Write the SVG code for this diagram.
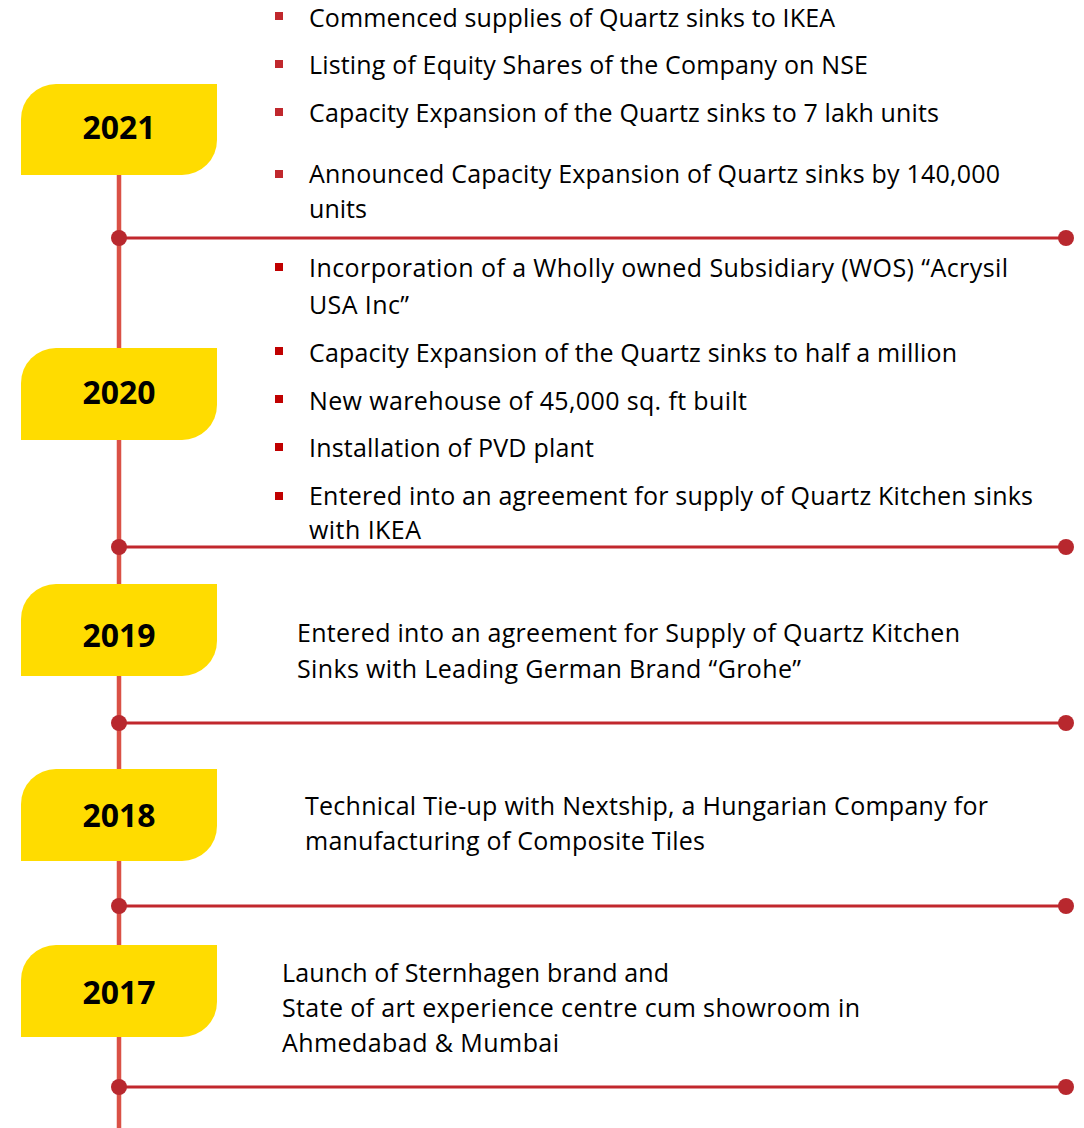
<svg xmlns="http://www.w3.org/2000/svg" width="1084" height="1128" viewBox="0 0 1084 1128">
<style>
.box{fill:#FFDC00}
.yr{font-family:"Open Sans","Liberation Sans",sans-serif;font-weight:700;font-size:32px;fill:#000;text-anchor:middle}
.t{font-family:"Open Sans","Liberation Sans",sans-serif;font-size:25px;fill:#000}
.b1{fill:#C0282D}
.b2{fill:#C00000}
.vline{stroke:#DA5146;stroke-width:4.5;fill:none}
.hline{stroke:#C1272D;stroke-width:3;fill:none}
.dot{fill:#B8282E}
</style>
<rect width="1084" height="1128" fill="#fff"/>
<g id="connectors">
<line class="vline" x1="119" y1="120" x2="119" y2="1128"/>
<g id="sep-2021"><line class="hline" x1="119" y1="238" x2="1066" y2="238"/><circle class="dot" cx="119" cy="238" r="8"/><circle class="dot" cx="1066" cy="238" r="8"/></g>
<g id="sep-2020"><line class="hline" x1="119" y1="547" x2="1066" y2="547"/><circle class="dot" cx="119" cy="547" r="8"/><circle class="dot" cx="1066" cy="547" r="8"/></g>
<g id="sep-2019"><line class="hline" x1="119" y1="723" x2="1066" y2="723"/><circle class="dot" cx="119" cy="723" r="8"/><circle class="dot" cx="1066" cy="723" r="8"/></g>
<g id="sep-2018"><line class="hline" x1="119" y1="906" x2="1066" y2="906"/><circle class="dot" cx="119" cy="906" r="8"/><circle class="dot" cx="1066" cy="906" r="8"/></g>
<g id="sep-2017"><line class="hline" x1="119" y1="1087" x2="1066" y2="1087"/><circle class="dot" cx="119" cy="1087" r="8"/><circle class="dot" cx="1066" cy="1087" r="8"/></g>
</g>
<g id="year-2021">
<path class="box" d="M56,84 H217 V140 A35,35 0 0 1 182,175 H21 V119 A35,35 0 0 1 56,84 Z"/>
<text class="yr" x="119" y="139" textLength="73" lengthAdjust="spacingAndGlyphs">2021</text>
</g>
<g id="events-2021">
<rect class="b1" x="275" y="12" width="8" height="8"/>
<text class="t" x="309" y="27" textLength="526" lengthAdjust="spacing">Commenced supplies of Quartz sinks to IKEA</text>
<rect class="b1" x="275" y="60" width="8" height="8"/>
<text class="t" x="309" y="74" textLength="559" lengthAdjust="spacing">Listing of Equity Shares of the Company on NSE</text>
<rect class="b1" x="275" y="108" width="8" height="8"/>
<text class="t" x="309" y="122" textLength="630" lengthAdjust="spacing">Capacity Expansion of the Quartz sinks to 7 lakh units</text>
<rect class="b1" x="275" y="170" width="8" height="8"/>
<text class="t" x="309" y="183" textLength="691" lengthAdjust="spacing">Announced Capacity Expansion of Quartz sinks by 140,000</text>
<text class="t" x="309" y="218" textLength="58" lengthAdjust="spacing">units</text>
</g>
<g id="year-2020">
<path class="box" d="M56,348 H217 V405 A35,35 0 0 1 182,440 H21 V383 A35,35 0 0 1 56,348 Z"/>
<text class="yr" x="119" y="404" textLength="73" lengthAdjust="spacingAndGlyphs">2020</text>
</g>
<g id="events-2020">
<rect class="b2" x="275" y="263" width="8" height="8"/>
<text class="t" x="309" y="277" textLength="699" lengthAdjust="spacing">Incorporation of a Wholly owned Subsidiary (WOS) “Acrysil</text>
<text class="t" x="309" y="314" textLength="100" lengthAdjust="spacing">USA Inc”</text>
<rect class="b2" x="275" y="347" width="8" height="8"/>
<text class="t" x="309" y="362" textLength="648" lengthAdjust="spacing">Capacity Expansion of the Quartz sinks to half a million</text>
<rect class="b2" x="275" y="395" width="8" height="8"/>
<text class="t" x="309" y="410" textLength="438" lengthAdjust="spacing">New warehouse of 45,000 sq. ft built</text>
<rect class="b2" x="275" y="443" width="8" height="8"/>
<text class="t" x="309" y="457" textLength="285" lengthAdjust="spacing">Installation of PVD plant</text>
<rect class="b2" x="275" y="492" width="8" height="8"/>
<text class="t" x="309" y="505" textLength="724" lengthAdjust="spacing">Entered into an agreement for supply of Quartz Kitchen sinks</text>
<text class="t" x="309" y="539" textLength="112" lengthAdjust="spacing">with IKEA</text>
</g>
<g id="year-2019">
<path class="box" d="M56,584 H217 V641 A35,35 0 0 1 182,676 H21 V619 A35,35 0 0 1 56,584 Z"/>
<text class="yr" x="119" y="647" textLength="73" lengthAdjust="spacingAndGlyphs">2019</text>
</g>
<g id="events-2019">
<text class="t" x="297" y="642" textLength="663" lengthAdjust="spacing">Entered into an agreement for Supply of Quartz Kitchen</text>
<text class="t" x="297" y="678" textLength="504" lengthAdjust="spacing">Sinks with Leading German Brand “Grohe”</text>
</g>
<g id="year-2018">
<path class="box" d="M56,769 H217 V826 A35,35 0 0 1 182,861 H21 V804 A35,35 0 0 1 56,769 Z"/>
<text class="yr" x="119" y="827" textLength="73" lengthAdjust="spacingAndGlyphs">2018</text>
</g>
<g id="events-2018">
<text class="t" x="305" y="815" textLength="683" lengthAdjust="spacing">Technical Tie-up with Nextship, a Hungarian Company for</text>
<text class="t" x="305" y="850" textLength="400" lengthAdjust="spacing">manufacturing of Composite Tiles</text>
</g>
<g id="year-2017">
<path class="box" d="M56,945 H217 V1002 A35,35 0 0 1 182,1037 H21 V980 A35,35 0 0 1 56,945 Z"/>
<text class="yr" x="119" y="1004" textLength="73" lengthAdjust="spacingAndGlyphs">2017</text>
</g>
<g id="events-2017">
<text class="t" x="282" y="982" textLength="387" lengthAdjust="spacing">Launch of Sternhagen brand and</text>
<text class="t" x="282" y="1017" textLength="578" lengthAdjust="spacing">State of art experience centre cum showroom in</text>
<text class="t" x="282" y="1052" textLength="277" lengthAdjust="spacing">Ahmedabad &amp; Mumbai</text>
</g>
</svg>
